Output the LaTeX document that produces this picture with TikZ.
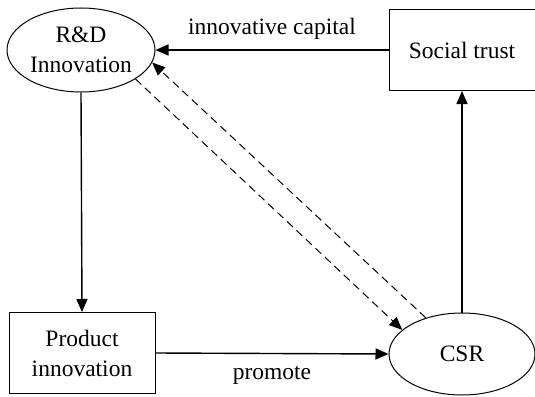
\documentclass[tikz,border=0pt]{standalone}
\usepackage{fontspec}
\setmainfont{Liberation Serif}
\usetikzlibrary{shapes.geometric,arrows.meta}
\begin{document}
\begin{tikzpicture}[x=1pt,y=-1pt,
  every node/.style={font=\rmfamily\fontsize{23.5}{30}\selectfont, align=center, inner sep=0pt},
  oval/.style={draw, ellipse, line width=1pt, minimum width=148pt, minimum height=84pt},
  box/.style={draw, rectangle, line width=1pt, minimum width=146pt, minimum height=81pt},
  link/.style={line width=1.4pt, -{Triangle[length=13pt,width=11pt]}},
  dlink/.style={line width=1pt, dash pattern=on 8pt off 5pt, -{Triangle[length=13pt,width=11pt]}}]
  \useasboundingbox (0,0) rectangle (535,396);
  % nodes
  \node[oval] (rd) at (81,50) {R\&D\\Innovation};
  \node[box] (st) at (462,50) {Social trust};
  \node[box] (pi) at (82,353) {Product\\innovation};
  \node[oval, minimum width=146pt, minimum height=82pt] (csr) at (462,354) {CSR};
  % solid connectors
  \draw[link] (st.west) -- (rd.east) node[midway, above=10pt] {innovative capital};
  \draw[link] (rd.south) -- (pi.north);
  \draw[link] (pi.east) -- (csr.west) node[midway, below=12pt] {promote};
  \draw[link] (csr.north) -- (st.south);
  % dashed feedback pair
  \draw[dlink] (csr.135) -- (rd.-10);
  \draw[dlink] (rd.-28) -- (csr.158);
\end{tikzpicture}
\end{document}
